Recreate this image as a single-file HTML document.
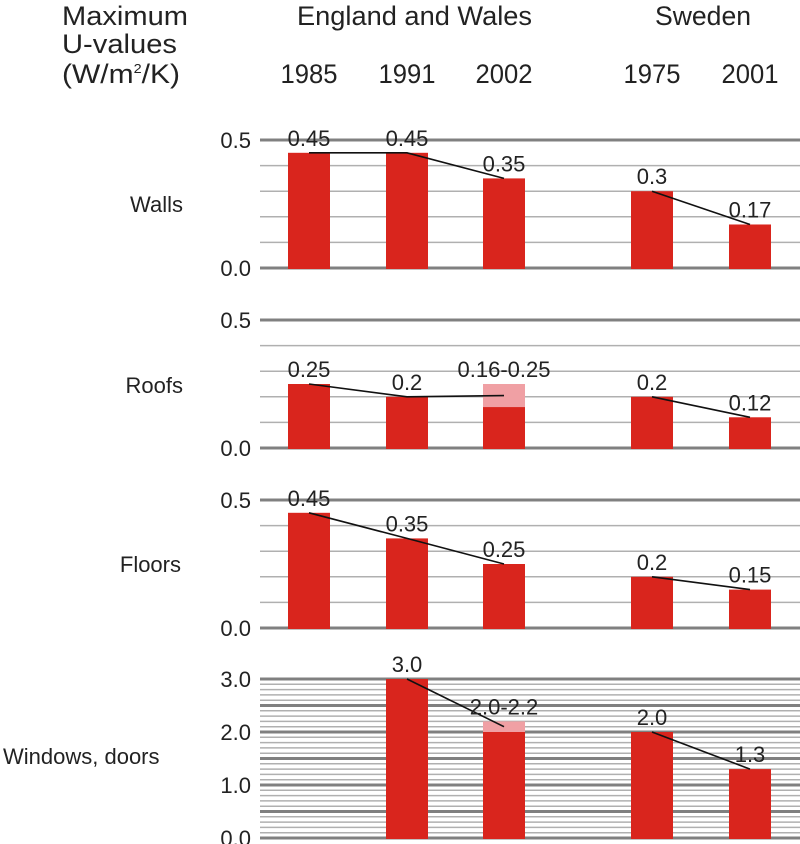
<!DOCTYPE html>
<html><head><meta charset="utf-8"><style>
html,body{margin:0;padding:0;background:#fff;}
svg{display:block;font-family:"Liberation Sans",sans-serif;}
</style></head><body>
<svg id="chart" width="800" height="844" viewBox="0 0 800 844">
<g font-size="27" fill="#222">
<text x="62" y="25" textLength="126" lengthAdjust="spacingAndGlyphs">Maximum</text>
<text x="62" y="53" textLength="115" lengthAdjust="spacingAndGlyphs">U-values</text>
<text x="62" y="83" textLength="118" lengthAdjust="spacingAndGlyphs">(W/m<tspan dy="-10" font-size="13">2</tspan><tspan dy="10">/K)</tspan></text>
<text x="297" y="25" textLength="235" lengthAdjust="spacingAndGlyphs">England and Wales</text>
<text x="655" y="25" textLength="96" lengthAdjust="spacingAndGlyphs">Sweden</text>
</g>
<g id="years" font-size="27" fill="#222" text-anchor="middle"></g>
<g id="panels"></g>
</svg>
<script>
const years = ['1985','1991','2002','1975','2001'];
const panelNames = ['Walls','Roofs','Floors','Windows, doors'];
const wallsLow  = [0.45,0.45,0.35,0.3,0.17];
const wallsHigh = [0.45,0.45,0.35,0.3,0.17];
const wallsLabels = ['0.45','0.45','0.35','0.3','0.17'];
const roofsLow  = [0.25,0.2,0.16,0.2,0.12];
const roofsHigh = [0.25,0.2,0.25,0.2,0.12];
const roofsLabels = ['0.25','0.2','0.16-0.25','0.2','0.12'];
const floorsLow  = [0.45,0.35,0.25,0.2,0.15];
const floorsHigh = [0.45,0.35,0.25,0.2,0.15];
const floorsLabels = ['0.45','0.35','0.25','0.2','0.15'];
const winLow  = [null,3.0,2.0,2.0,1.3];
const winHigh = [null,3.0,2.2,2.0,1.3];
const winLabels = ['','3.0','2.0-2.2','2.0','1.3'];
const smallTicks = ['0.0','0.5'];
const winTicks = ['0.0','1.0','2.0','3.0'];

const NS='http://www.w3.org/2000/svg';
const barCenters=[309,407,504,652,750];
const barW=42;
function mk(tag,attrs,parent){const e=document.createElementNS(NS,tag);for(const k in attrs)e.setAttribute(k,attrs[k]);parent.appendChild(e);return e;}

const yg=document.getElementById('years');
years.forEach((y,i)=>{const t=mk('text',{x:barCenters[i],y:83,textLength:57,lengthAdjust:'spacingAndGlyphs'},yg);t.textContent=y;

});

const panels=[
 {name:panelNames[0],lo:wallsLow,hi:wallsHigh,lab:wallsLabels,y0:268,max:0.5,px:128,minor:0.1,major:0.5,ticks:smallTicks,lx:183,ly:212,anchor:'end'},
 {name:panelNames[1],lo:roofsLow,hi:roofsHigh,lab:roofsLabels,y0:448,max:0.5,px:128,minor:0.1,major:0.5,ticks:smallTicks,lx:183,ly:393,anchor:'end'},
 {name:panelNames[2],lo:floorsLow,hi:floorsHigh,lab:floorsLabels,y0:628,max:0.5,px:128,minor:0.1,major:0.5,ticks:smallTicks,lx:181,ly:572,anchor:'end'},
 {name:panelNames[3],lo:winLow,hi:winHigh,lab:winLabels,y0:838,max:3.0,px:159,minor:0.1,major:0.5,ticks:winTicks,lx:3,ly:764,anchor:'start'}
];
const root=document.getElementById('panels');
panels.forEach((p,pi)=>{
 const g=mk('g',{},root);
 
 
 const sc=v=>p.y0-v/p.max*p.px;
 const n=Math.round(p.max/p.minor);
 for(let k=0;k<=n;k++){const v=k*p.minor;const major=Math.abs(v/p.major-Math.round(v/p.major))<1e-6;
  const l=mk('line',{x1:260,x2:800,y1:sc(v),y2:sc(v),stroke:major?'#808080':'#b0b0b0','stroke-width':major?3:1.5},g);
  
  }
 p.ticks.forEach(t=>{const e=mk('text',{x:251,y:sc(parseFloat(t))+8,'text-anchor':'end','font-size':22,fill:'#222'},g);e.textContent=t;
  
  });
 const rl=mk('text',{x:p.lx,y:p.ly,'text-anchor':p.anchor,'font-size':22,fill:'#222'},g);rl.textContent=p.name;
 
 
 const pts=[];
 p.lo.forEach((v,i)=>{ if(v===null)return;
  const cx=barCenters[i];
  const r=mk('rect',{x:cx-barW/2,y:sc(v),width:barW,height:p.y0-sc(v)+1,fill:'#d9251d'},g);
  
  
  const h=p.hi[i];
  if(h>v){const r2=mk('rect',{x:cx-barW/2,y:sc(h),width:barW,height:sc(v)-sc(h),fill:'#f0a0a4'},g);
   
   }
  pts.push({x:cx,y:sc((v+h)/2),grp:i<3?0:1,top:sc(h),lab:p.lab[i]});
 });
 [0,1].forEach(gr=>{const ps=pts.filter(q=>q.grp===gr);if(ps.length<2)return;
  const pl=mk('polyline',{points:ps.map(q=>q.x+','+q.y).join(' '),fill:'none',stroke:'#111','stroke-width':1.6},g);
  
  });
 pts.forEach(q=>{const t=mk('text',{x:q.x,y:q.top-7,'text-anchor':'middle','font-size':22,fill:'#222'},g);t.textContent=q.lab;
  
  });
});
</script>
</body></html>
